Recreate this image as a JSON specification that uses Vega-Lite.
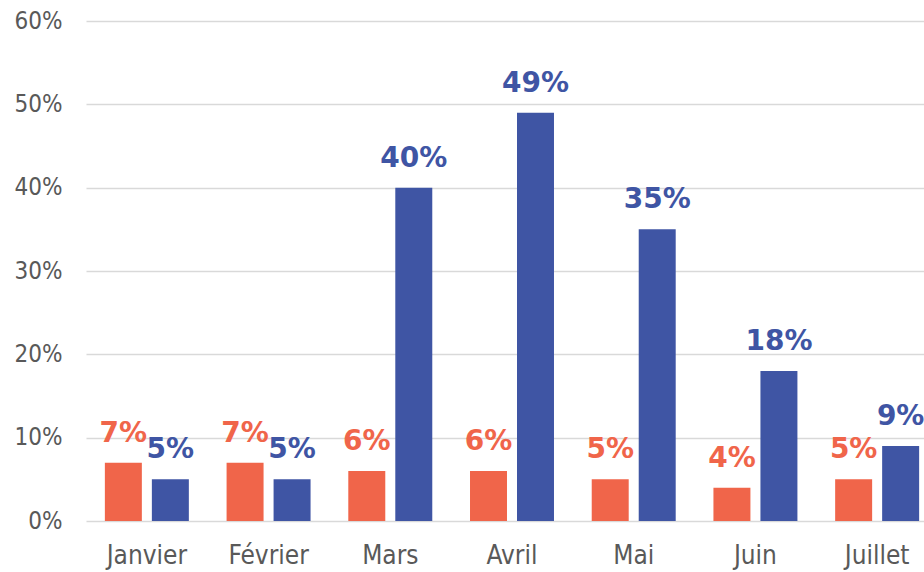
{
  "$schema": "https://vega.github.io/schema/vega-lite/v6.json",
  "width": 852,
  "height": 500,
  "autosize": "none",
  "padding": {"left": 86, "top": 21, "right": 0, "bottom": 51},
  "background": "white",
  "config": {
    "view": {"stroke": null},
    "font": "DejaVu Sans"
  },
  "data": {
    "values": [
      {"mois": "Janvier", "serie": "A", "valeur": 0.07},
      {"mois": "Février", "serie": "A", "valeur": 0.07},
      {"mois": "Mars", "serie": "A", "valeur": 0.06},
      {"mois": "Avril", "serie": "A", "valeur": 0.06},
      {"mois": "Mai", "serie": "A", "valeur": 0.05},
      {"mois": "Juin", "serie": "A", "valeur": 0.04},
      {"mois": "Juillet", "serie": "A", "valeur": 0.05},
      {"mois": "Janvier", "serie": "B", "valeur": 0.05},
      {"mois": "Février", "serie": "B", "valeur": 0.05},
      {"mois": "Mars", "serie": "B", "valeur": 0.40},
      {"mois": "Avril", "serie": "B", "valeur": 0.49},
      {"mois": "Mai", "serie": "B", "valeur": 0.35},
      {"mois": "Juin", "serie": "B", "valeur": 0.18},
      {"mois": "Juillet", "serie": "B", "valeur": 0.09}
    ]
  },
  "encoding": {
    "x": {
      "field": "mois",
      "type": "nominal",
      "sort": ["Janvier", "Février", "Mars", "Avril", "Mai", "Juin", "Juillet"],
      "scale": {"paddingInner": 0.31, "paddingOuter": 0.155},
      "axis": {
        "title": null,
        "domain": false,
        "ticks": false,
        "labelAngle": 0,
        "labelFont": "DejaVu Sans Condensed",
        "labelFontSize": 26,
        "labelColor": "#595959",
        "labelBaseline": "alphabetic",
        "labelPadding": 42
      }
    },
    "xOffset": {
      "field": "serie",
      "type": "nominal",
      "scale": {"paddingInner": 0.213, "paddingOuter": 0}
    },
    "y": {
      "field": "valeur",
      "type": "quantitative",
      "scale": {"domain": [0, 0.6], "nice": false},
      "axis": {
        "title": null,
        "format": ".0%",
        "values": [0, 0.1, 0.2, 0.3, 0.4, 0.5, 0.6],
        "domain": false,
        "ticks": false,
        "labelFont": "DejaVu Sans Condensed",
        "labelFontSize": 24,
        "labelColor": "#595959",
        "labelPadding": 24,
        "gridColor": "#D9D9D9",
        "gridWidth": 1.5
      }
    },
    "color": {
      "field": "serie",
      "type": "nominal",
      "scale": {"domain": ["A", "B"], "range": ["#F0654A", "#3F55A4"]},
      "legend": null
    }
  },
  "layer": [
    {"mark": {"type": "bar"}},
    {
      "mark": {"type": "text", "baseline": "bottom", "dy": -15, "fontSize": 28, "fontWeight": "bold"},
      "encoding": {
        "text": {"field": "valeur", "type": "quantitative", "format": ".0%"}
      }
    }
  ]
}
